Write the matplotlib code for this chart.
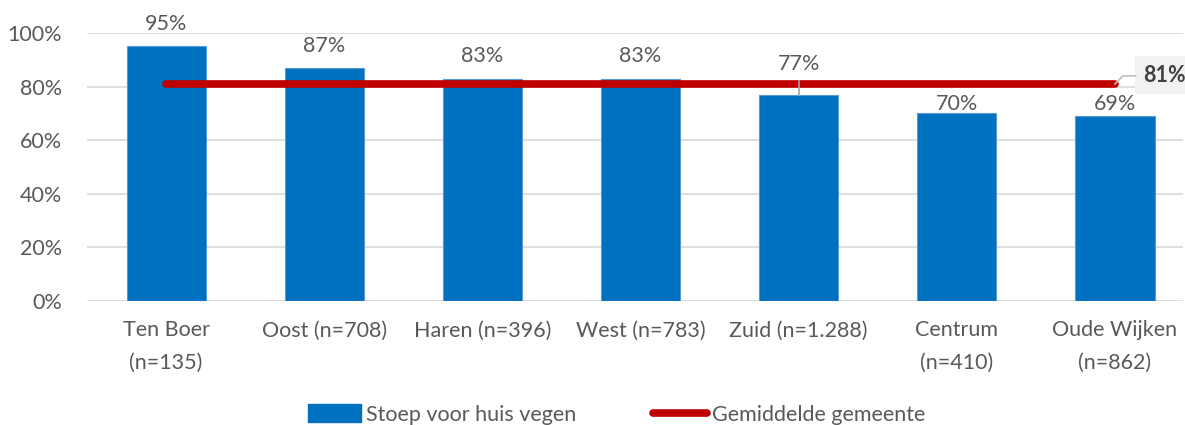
import numpy as np
import matplotlib.pyplot as plt
import matplotlib
from matplotlib.patches import Patch
from matplotlib.lines import Line2D

params = {'font.family': 'Lato',
          'font.size': 15.5}
matplotlib.rcParams.update(params)

categories = ['Ten Boer\n(n=135)', 'Oost (n=708)', 'Haren (n=396)', 'West (n=783)',
              'Zuid (n=1.288)', 'Centrum\n(n=410)', 'Oude Wijken\n(n=862)']
values = [95, 87, 83, 83, 77, 70, 69]
average = 81
yticks = [0, 20, 40, 60, 80, 100]

bar_color = '#0070C0'
line_color = '#C00000'
text_color = '#595959'

fig = plt.figure(figsize=(11.85, 4.25), dpi=100)
ax = fig.add_axes([87/1185, 1-301/425, 1096/1185, 268/425])

x = np.arange(len(categories))
ax.bar(x, values, width=0.5, color=bar_color, edgecolor='#5B9BD5', linewidth=0.8, zorder=2)
ax.plot([x[0], x[-1]], [average, average], color=line_color, lw=5.5,
        solid_capstyle='round', zorder=3)

# data labels, moved out of the way of the average line like Excel does
for xi, v in zip(x, values):
    if v > average:
        ax.text(xi, v + 6, f'{v}%', ha='center', va='baseline', color=text_color)
    elif v > average - 8:
        ax.text(xi, average + 5.2, f'{v}%', ha='center', va='baseline', color=text_color)
        ax.plot([xi, xi], [v, average + 1], color='#A6A6A6', lw=1.2, zorder=4)
    else:
        ax.text(xi, average - 9.7, f'{v}%', ha='center', va='baseline', color=text_color)

# label for the average line
ax.plot([x[-1], x[-1] + 0.05, x[-1] + 0.13], [average, average + 3, average + 3],
        color='#BFBFBF', lw=1.2, zorder=4, clip_on=False)
ax.text(x[-1] + 0.18, average + 3.3, f'{average}%', ha='left', va='center',
        color='#404040', fontweight='bold',
        bbox=dict(boxstyle='square,pad=0.4', fc='#F2F2F2', ec='none'))

ax.set_xlim(-0.5, 6.43)
ax.set_ylim(0, 100)
ax.set_yticks(yticks)
ax.set_yticklabels([f'{t}%' for t in yticks], color=text_color)
ax.set_xticks(x)
ax.set_xticklabels(categories, color=text_color, linespacing=1.75)
ax.yaxis.grid(True, color='#D9D9D9', lw=1.2, zorder=0)
ax.set_axisbelow(True)
ax.tick_params(length=0, pad=14)
ax.tick_params(axis='y', pad=18)
for s in ax.spines.values():
    s.set_visible(False)

handles = [Patch(facecolor=bar_color, edgecolor=bar_color, label='Stoep voor huis vegen'),
           Line2D([0], [0], color=line_color, lw=5.5, solid_capstyle='round',
                  label='Gemiddelde gemeente')]
fig.legend(handles=handles, loc='lower center', bbox_to_anchor=(0.52, -0.045), ncol=2,
           frameon=False, labelcolor=text_color, handlelength=2.5,
           handletextpad=0.2, columnspacing=3.6, handleheight=0.9)

plt.savefig('out.png', dpi=100)
